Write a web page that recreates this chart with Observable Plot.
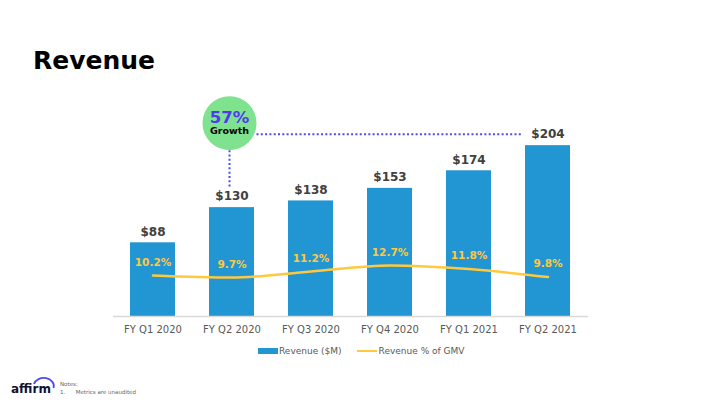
<!DOCTYPE html>
<html><head><meta charset="utf-8">
<script src="https://cdn.jsdelivr.net/npm/d3@7"></script>
<script src="https://cdn.jsdelivr.net/npm/@observablehq/plot@0.6"></script>
<style>
body{margin:0;width:720px;height:405px;background:#fff;position:relative;overflow:hidden;font-family:"DejaVu Sans",sans-serif}
#title{position:absolute;left:33px;top:46px;font-size:25px;font-weight:bold;color:#000;line-height:normal}
#chart{position:absolute;left:0;top:90px}
#legend{position:absolute;top:344px;left:258px;height:14px;display:flex;align-items:center;font-size:9px;color:#595959;white-space:nowrap}
.sw{display:inline-block;width:20px;height:6px;background:#2196D3;margin-right:1px}
.ln{display:inline-block;width:20px;height:2px;background:#FFC83D;margin-right:2px;margin-left:15px}
#logo{position:absolute;left:11px;top:382px;font-size:12px;font-weight:bold;color:#111133;line-height:normal}
#arc{position:absolute;left:0;top:0}
#notes{position:absolute;left:60px;top:380px;font-size:5.5px;color:#666;line-height:8px}
</style>
</head><body>
<div id="title">Revenue</div>
<div id="chart"></div>
<div id="legend"><span class="sw"></span>Revenue ($M)<span class="ln"></span>Revenue % of GMV</div>
<svg id="arc" width="720" height="405"><path d="M34,384 A10,8 0 0 1 53.5,388" fill="none" stroke="#4A4AF4" stroke-width="1.8"/></svg>
<div id="logo">affirm</div>
<div id="notes">Notes:<br>1.&nbsp;&nbsp;&nbsp;&nbsp;&nbsp;&nbsp;Metrics are unaudited</div>
<script>
const quarters = ["FY Q1 2020","FY Q2 2020","FY Q3 2020","FY Q4 2020","FY Q1 2021","FY Q2 2021"];
const revenue = [88, 130, 138, 153, 174, 204];
const pctOfGMV = [10.2, 9.7, 11.2, 12.7, 11.8, 9.8];
const growthLabel = "57%";
const growthSub = "Growth";
const growthFrom = "FY Q2 2020";
const growthTo = "FY Q2 2021";

const data = quarters.map((q, i) => ({q, rev: revenue[i], pct: pctOfGMV[i]}));
const revMax = 240;      // primary axis 0–240 $M
const pctMax = 50;       // secondary axis 0–50 %
const pctY = d => d.pct * revMax / pctMax;

function growthAnnotation(index, scales) {
  const x = scales.x, y = scales.y;
  const bw = x.bandwidth ? x.bandwidth() : 0;
  const xc = q => x(q) + bw / 2;
  const revOf = q => revenue[quarters.indexOf(q)];
  const g = d3.create("svg:g");
  const cx = xc(growthFrom) - 2;
  const ly = y(revOf(growthTo)) - 11;   // level of target label
  const cy = ly - 11;
  const r = 27;
  g.append("line").attr("x1", cx + r).attr("x2", xc(growthTo) - 25)
    .attr("y1", ly).attr("y2", ly)
    .attr("stroke", "#4B4BF5").attr("stroke-width", 2).attr("stroke-dasharray", "2,2.3");
  g.append("line").attr("x1", cx).attr("x2", cx)
    .attr("y1", cy + r).attr("y2", y(revOf(growthFrom)) - 20)
    .attr("stroke", "#4B4BF5").attr("stroke-width", 2).attr("stroke-dasharray", "2,2.3");
  g.append("circle").attr("cx", cx).attr("cy", cy).attr("r", r).attr("fill", "#7EE28F");
  g.append("text").attr("x", cx).attr("y", cy - 6).attr("text-anchor", "middle").attr("dy", "0.35em")
    .attr("fill", "#4E3BF0").attr("font-weight", "bold").attr("font-size", 16.5).text(growthLabel);
  g.append("text").attr("x", cx).attr("y", cy + 8).attr("text-anchor", "middle").attr("dy", "0.35em")
    .attr("fill", "#000").attr("font-weight", "bold").attr("font-size", 9.5).text(growthSub);
  return g.node();
}

const chart = Plot.plot({
  width: 720,
  height: 250,
  marginLeft: 113,
  marginRight: 132,
  marginTop: 25,
  marginBottom: 24,
  style: {fontFamily: "DejaVu Sans, sans-serif", fontSize: "10px", color: "#595959", background: "transparent"},
  x: {domain: quarters, paddingInner: 0.43, paddingOuter: 0.215, tickSize: 0, tickPadding: 9, label: null},
  y: {domain: [0, revMax], axis: null},
  marks: [
    Plot.barY(data, {x: "q", y: "rev", fill: "#2196D3"}),
    Plot.ruleY([0], {stroke: "#D9D9D9", strokeWidth: 1.5}),
    Plot.line(data, {x: "q", y: pctY, stroke: "#FFC83D", strokeWidth: 2.5, curve: "monotone-x"}),
    Plot.text(data, {x: "q", y: pctY, text: d => d.pct.toFixed(1) + "%", dy: -13, fill: "#FFC83D", fontWeight: "bold", fontSize: 10.5}),
    Plot.text(data, {x: "q", y: "rev", text: d => "$" + d.rev, dy: -11, fill: "#404040", fontWeight: "bold", fontSize: 12}),
    growthAnnotation
  ]
});
document.getElementById("chart").appendChild(chart);
</script>
</body></html>
